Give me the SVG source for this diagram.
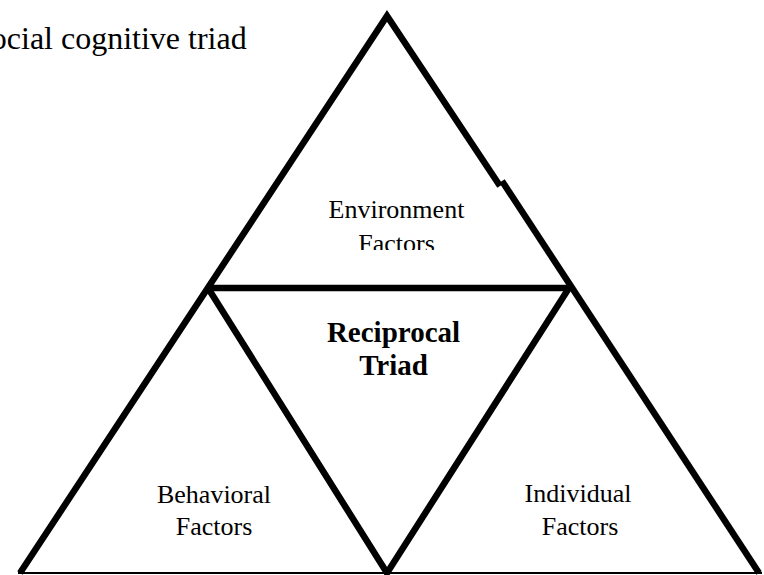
<svg xmlns="http://www.w3.org/2000/svg" width="764" height="575" viewBox="0 0 764 575">
  <style>
    .edge { stroke: #000; stroke-width: 6.5; fill: none; stroke-linejoin: miter; stroke-linecap: butt; }
    .base { stroke: #000; stroke-width: 2; fill: none; }
    .label { font-family: "Liberation Serif", "Times New Roman", serif; font-size: 26px; fill: #000; text-anchor: middle; }
    .core { font-family: "Liberation Serif", "Times New Roman", serif; font-size: 29px; font-weight: bold; fill: #000; text-anchor: middle; }
    .title { font-family: "Liberation Serif", "Times New Roman", serif; font-size: 32px; fill: #000; }
  </style>
  <defs>
    <clipPath id="envClip">
      <rect x="300" y="180" width="200" height="70"/>
    </clipPath>
  </defs>
  <rect width="764" height="575" fill="#fff"/>

  <text class="title" x="-27" y="49">Social cognitive triad</text>

  <!-- triangle edges -->
  <g id="connectors">
    <polyline class="edge" points="20,573 387,16 500,186"/>
    <line class="edge" x1="502" y1="181" x2="759" y2="573"/>
    <line class="edge" x1="208" y1="288" x2="569" y2="288"/>
    <polyline class="edge" points="208,288 387,573 569,288"/>
    <line class="base" x1="18" y1="573" x2="762" y2="573"/>
  </g>

  <g id="environment">
    <g clip-path="url(#envClip)">
      <text class="label" x="396.5" y="218">Environment</text>
      <text class="label" x="396.5" y="252">Factors</text>
    </g>
  </g>

  <g id="reciprocal">
    <text class="core" x="393.5" y="342">Reciprocal</text>
    <text class="core" x="393.5" y="375">Triad</text>
  </g>

  <g id="behavioral">
    <text class="label" x="214" y="503">Behavioral</text>
    <text class="label" x="214" y="535">Factors</text>
  </g>

  <g id="individual">
    <text class="label" x="578" y="502">Individual</text>
    <text class="label" x="580" y="535">Factors</text>
  </g>
</svg>
